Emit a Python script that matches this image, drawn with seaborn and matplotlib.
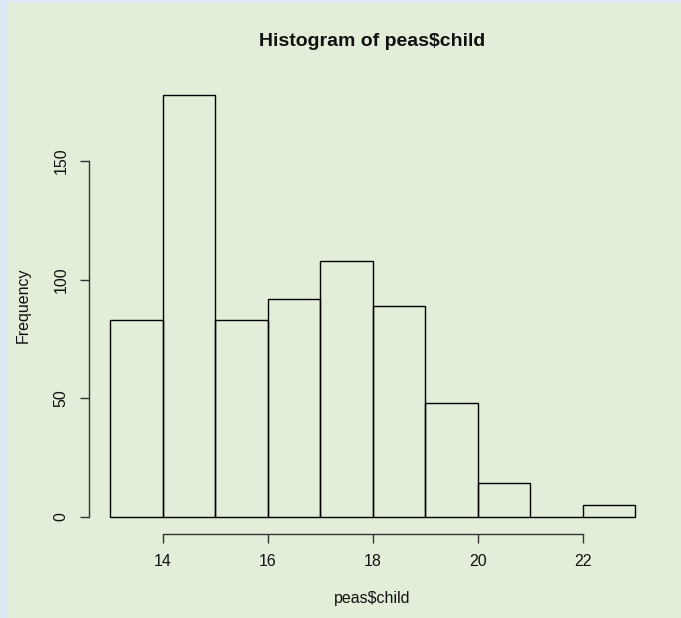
import matplotlib
matplotlib.use("Agg")
import matplotlib.pyplot as plt
from matplotlib.patches import Rectangle
import numpy as np
import pandas as pd
import seaborn as sns

# Histogram bins of peas$child (unit-width classes from 13 to 23) and their counts
bin_edges = [13, 14, 15, 16, 17, 18, 19, 20, 21, 22, 23]
counts = [83, 178, 83, 92, 108, 89, 48, 14, 0, 5]
x_ticks = [14, 16, 18, 20, 22]
y_ticks = [0, 50, 100, 150]

title = "Histogram of peas$child"
x_label = "peas$child"
y_label = "Frequency"

sns.set_theme(style="white")
plt.rcParams["font.family"] = ["Liberation Sans", "DejaVu Sans"]

W, H, DPI = 681, 618, 100
fig = plt.figure(figsize=(W / DPI, H / DPI), dpi=DPI)
fig.patch.set_facecolor("#DDE8F4")
# green panel behind the plot
fig.patches.append(Rectangle((8 / W, 0), 1 - 8 / W, 1 - 3 / H, transform=fig.transFigure,
                             facecolor="#E2EED9", edgecolor="none", zorder=-10))

left, right = 89.2 / W, 656.0 / W
bottom, top = 1 - 533.5 / H, 1 - 77.8 / H
ax = fig.add_axes([left, bottom, right - left, top - bottom])
ax.set_facecolor("none")
ax.set_zorder(5)

mids = [(a + b) / 2 for a, b in zip(bin_edges[:-1], bin_edges[1:])]
df = pd.DataFrame({"child": mids, "n": counts})
sns.histplot(data=df, x="child", weights="n", bins=bin_edges, fill=False,
             element="bars", color="black", edgecolor="black", linewidth=1.0, ax=ax)

ymax = max(counts)
ax.set_xlim(12.6, 23.4)
ax.set_ylim(-0.04 * ymax, 1.04 * ymax)

# R-style axes: detached lines spanning the tick range only
for s in ["top", "right"]:
    ax.spines[s].set_visible(False)
ax.spines["left"].set_bounds(y_ticks[0], y_ticks[-1])
ax.spines["bottom"].set_bounds(x_ticks[0], x_ticks[-1])
for s in ["left", "bottom"]:
    ax.spines[s].set_color("#333333")
    ax.spines[s].set_linewidth(1.0)

ax.set_xticks(x_ticks)
ax.set_yticks(y_ticks)
ax.set_xticklabels([str(v) for v in x_ticks])
ax.set_yticklabels([str(v) for v in y_ticks], rotation=90, va="center")
ax.tick_params(axis="both", direction="out", length=6.5, width=1.0, color="#333333",
               labelsize=11.5, labelcolor="#111111", left=True, bottom=True)
ax.tick_params(axis="x", pad=8.0)
ax.tick_params(axis="y", pad=8.5)

ax.set_xlabel(x_label, fontsize=11.5, color="#111111", va="center")
ax.set_ylabel(y_label, fontsize=11.5, color="#111111", va="center")
ax.xaxis.set_label_coords(0.5, (533.5 - 598) / (533.5 - 77.8))
ax.yaxis.set_label_coords((23 - 89.2) / (656 - 89.2), 0.5)

ax.text(0.5, (533.5 - 42) / (533.5 - 77.8), title, transform=ax.transAxes,
        ha="center", va="center", fontsize=14, fontweight="bold", color="#111111")

fig.savefig("out.png", dpi=DPI, facecolor=fig.get_facecolor())
